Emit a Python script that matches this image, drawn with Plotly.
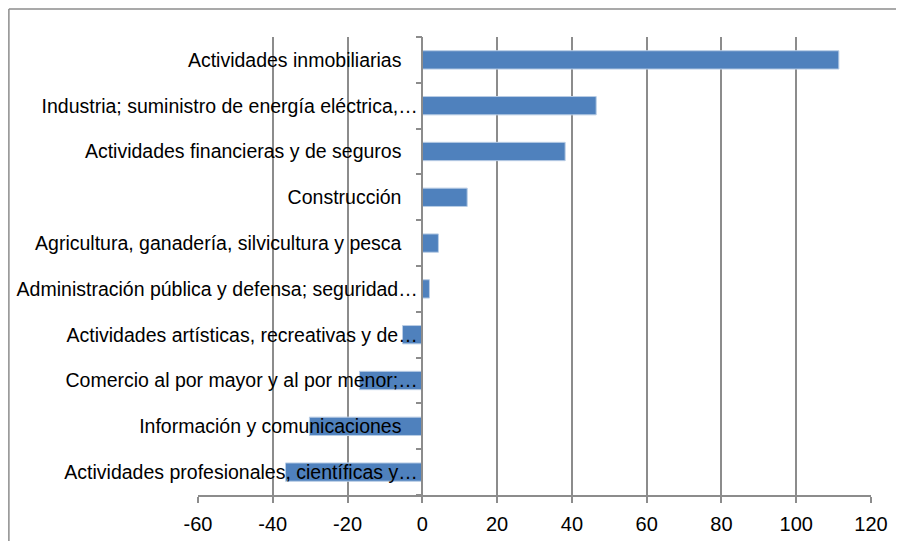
import plotly.graph_objects as go

sectores = [
    "Actividades inmobiliarias",
    "Industria; suministro de energía eléctrica,…",
    "Actividades financieras y de seguros",
    "Construcción",
    "Agricultura, ganadería, silvicultura y pesca",
    "Administración pública y defensa; seguridad…",
    "Actividades artísticas, recreativas y de…",
    "Comercio al por mayor y al por menor;…",
    "Información y comunicaciones",
    "Actividades profesionales, científicas y…",
]
valores = [111.4, 46.5, 38.2, 12.0, 4.3, 1.9, -5.3, -16.8, -30.2, -36.6]

x_ticks = [-60, -40, -20, 0, 20, 40, 60, 80, 100, 120]
x_labels = ["-60", "-40", "-20", "0", "20", "40", "60", "80", "100", "120"]

FONT = "Liberation Sans, Arial, sans-serif"
GRID = "#8c8c8c"

# full labels sit a little further from the axis than the truncated ones
y_labels = [s if s.endswith("…") else s + "\u00a0" * 3 for s in sectores]

fig = go.Figure(go.Bar(
    x=valores,
    y=sectores,
    orientation="h",
    marker=dict(color="#4f81bd", line=dict(color="#b9cde5", width=1)),
))

# chart frame: only the top and left edges fall inside the picture
frame = dict(color="#8c8c8c", width=1.5)
fig.add_shape(type="line", xref="paper", yref="paper",
              x0=-0.281, x1=1.05, y0=1.0611, y1=1.0611, line=frame)
fig.add_shape(type="line", xref="paper", yref="paper",
              x0=-0.281, x1=-0.281, y0=-0.2, y1=1.0611, line=frame)

fig.update_layout(
    width=888,
    height=533,
    paper_bgcolor="white",
    plot_bgcolor="white",
    showlegend=False,
    bargap=0.6,
    margin=dict(l=190, r=25, t=29, b=46, autoexpand=False),
    font=dict(family=FONT, color="black"),
    xaxis=dict(
        range=[-60, 120],
        tickvals=x_ticks,
        ticktext=x_labels,
        showgrid=True, gridcolor=GRID, gridwidth=1.5,
        zeroline=False,
        showline=True, linecolor=GRID, linewidth=1.5,
        ticks="outside", ticklen=6, tickcolor=GRID, tickwidth=1.5,
        tickfont=dict(size=20),
        ticklabelstandoff=4,
        automargin=False,
    ),
    yaxis=dict(
        autorange="reversed",
        anchor="free", position=1 / 3,
        tickvals=sectores,
        ticktext=y_labels,
        showgrid=False,
        showline=True, linecolor=GRID, linewidth=1.5,
        ticks="outside", tickson="boundaries", ticklen=6,
        tickcolor=GRID, tickwidth=1.5,
        tickfont=dict(size=19.5),
        ticklabelstandoff=0,
        automargin=False,
    ),
)

fig.write_html("out.html")
